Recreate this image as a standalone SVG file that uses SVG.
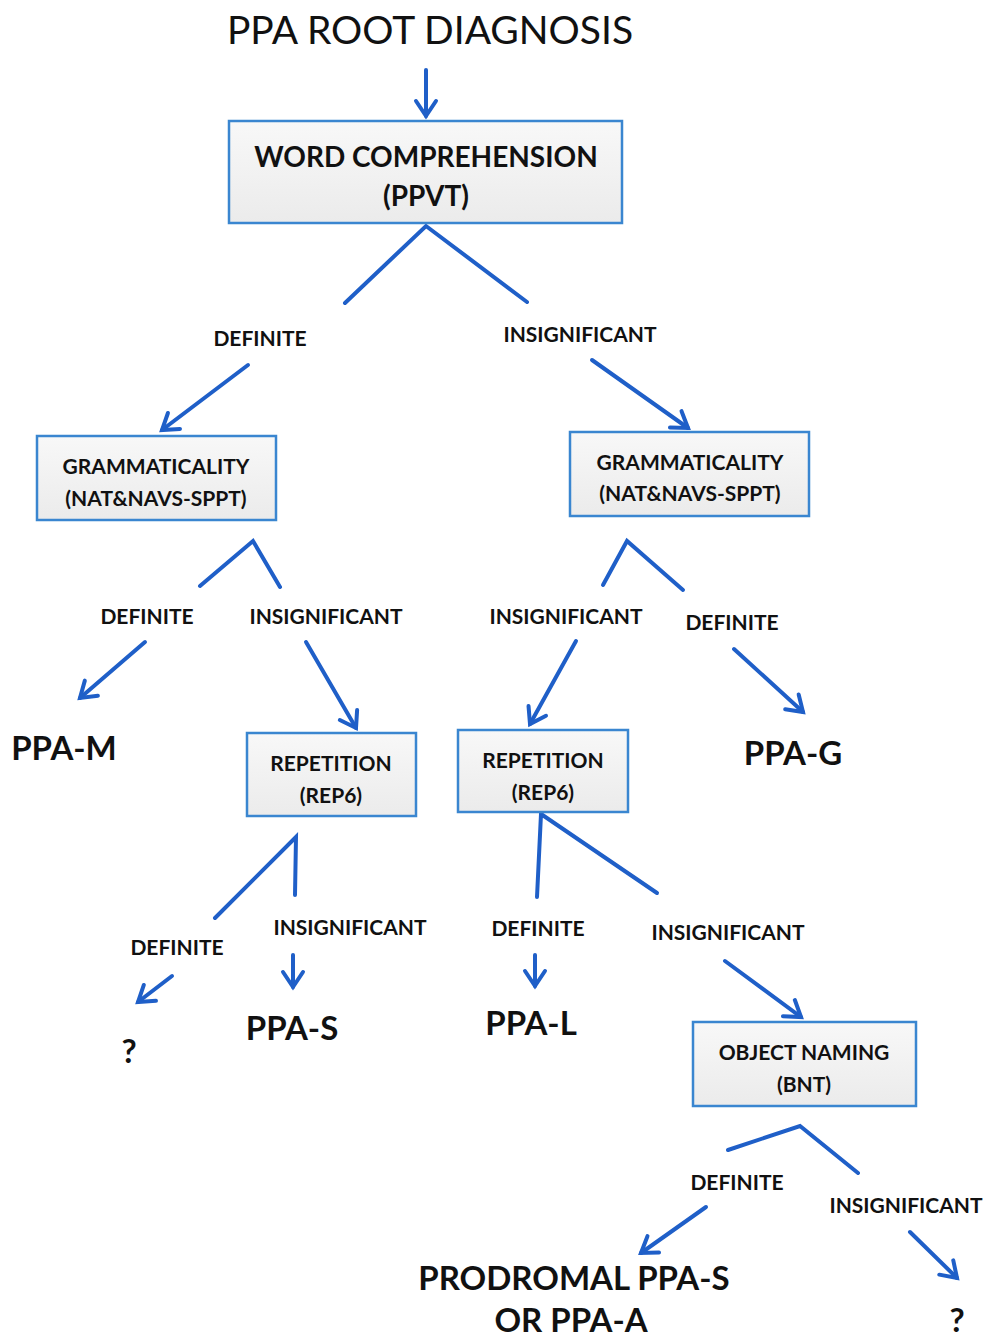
<svg xmlns="http://www.w3.org/2000/svg" width="989" height="1338" viewBox="0 0 989 1338">
<defs>
<linearGradient id="boxfill" x1="0" y1="0" x2="0" y2="1">
<stop offset="0" stop-color="#f8f8f8"/>
<stop offset="1" stop-color="#ebebeb"/>
</linearGradient>
<marker id="arr" markerUnits="userSpaceOnUse" markerWidth="30" markerHeight="30" viewBox="-20 -15 30 30" refX="0" refY="0" orient="auto">
<path d="M-15,-10 L0,0 L-15,10" fill="none" stroke="#1f5fc8" stroke-width="4" stroke-linecap="round" stroke-linejoin="miter"/>
</marker>
<style>
.box{fill:url(#boxfill);stroke:#3a86d0;stroke-width:2.5}
.ln{fill:none;stroke:#1f5fc8;stroke-width:4;stroke-linecap:round;stroke-linejoin:miter}
.ar{fill:none;stroke:#1f5fc8;stroke-width:4;stroke-linecap:round;marker-end:url(#arr)}
text{font-family:Lato,"Open Sans","Liberation Sans",sans-serif;fill:#111;text-anchor:middle}
.title{font-size:39px;font-weight:400}
.big{font-size:28px;font-weight:700}
.nt{font-size:21px;font-weight:700}
.lbl{font-size:21px;font-weight:700}
.res{font-size:33px;font-weight:700}
</style>
</defs>
<rect x="0" y="0" width="989" height="1338" fill="#ffffff"/>
<g id="title"><text class="title" x="430" y="44">PPA ROOT DIAGNOSIS</text></g>

<g id="connectors">
<line class="ar" x1="426" y1="70" x2="426" y2="116"/>
<polyline class="ln" points="345,303 426,226 527,302"/>
<line class="ar" x1="248" y1="365" x2="162" y2="430"/>
<line class="ar" x1="592" y1="360" x2="688" y2="428"/>
<polyline class="ln" points="200,586 253,541 280,587"/>
<polyline class="ln" points="603,585 627,541 683,590"/>
<line class="ar" x1="145" y1="642" x2="80" y2="698"/>
<line class="ar" x1="306" y1="642" x2="356" y2="728"/>
<line class="ar" x1="576" y1="641" x2="530" y2="724"/>
<line class="ar" x1="734" y1="649" x2="803" y2="712"/>
<polyline class="ln" points="215,918 296,837 295,895"/>
<polyline class="ln" points="537,897 541,814 657,893"/>
<line class="ar" x1="172" y1="976" x2="138" y2="1002"/>
<line class="ar" x1="293" y1="955" x2="293" y2="987"/>
<line class="ar" x1="535" y1="955" x2="535" y2="986"/>
<line class="ar" x1="725" y1="961" x2="801" y2="1017"/>
<polyline class="ln" points="728,1150 800,1126 858,1173"/>
<line class="ar" x1="706" y1="1207" x2="641" y2="1253"/>
<line class="ar" x1="910" y1="1232" x2="957" y2="1278"/>
</g>

<g id="word-comprehension">
<rect class="box" x="229" y="121" width="393" height="102"/>
<text class="big" x="426" y="167">WORD COMPREHENSION</text>
<text class="big" x="426" y="206">(PPVT)</text>
</g>
<g id="lbl-def-1"><text class="lbl" x="260" y="346">DEFINITE</text></g>
<g id="lbl-ins-1"><text class="lbl" x="580" y="342">INSIGNIFICANT</text></g>

<g id="grammaticality-left">
<rect class="box" x="37" y="436" width="239" height="84"/>
<text class="nt" x="156" y="474">GRAMMATICALITY</text>
<text class="nt" x="156" y="506">(NAT&amp;NAVS-SPPT)</text>
</g>
<g id="grammaticality-right">
<rect class="box" x="570" y="432" width="239" height="84"/>
<text class="nt" x="690" y="470">GRAMMATICALITY</text>
<text class="nt" x="690" y="501">(NAT&amp;NAVS-SPPT)</text>
</g>

<g id="lbl-def-2"><text class="lbl" x="147" y="624">DEFINITE</text></g>
<g id="lbl-ins-2"><text class="lbl" x="326" y="624">INSIGNIFICANT</text></g>
<g id="lbl-ins-3"><text class="lbl" x="566" y="624">INSIGNIFICANT</text></g>
<g id="lbl-def-3"><text class="lbl" x="732" y="630">DEFINITE</text></g>

<g id="ppa-m"><text class="res" x="64" y="760">PPA-M</text></g>
<g id="ppa-g"><text class="res" x="793" y="765">PPA-G</text></g>

<g id="repetition-left">
<rect class="box" x="247" y="733" width="169" height="83"/>
<text class="nt" x="331" y="771">REPETITION</text>
<text class="nt" x="331" y="803">(REP6)</text>
</g>
<g id="repetition-right">
<rect class="box" x="458" y="730" width="170" height="82"/>
<text class="nt" x="543" y="768">REPETITION</text>
<text class="nt" x="543" y="800">(REP6)</text>
</g>

<g id="lbl-def-4"><text class="lbl" x="177" y="955">DEFINITE</text></g>
<g id="lbl-ins-4"><text class="lbl" x="350" y="935">INSIGNIFICANT</text></g>
<g id="lbl-def-5"><text class="lbl" x="538" y="936">DEFINITE</text></g>
<g id="lbl-ins-5"><text class="lbl" x="728" y="940">INSIGNIFICANT</text></g>

<g id="unknown-1"><text class="res" x="129" y="1063">?</text></g>
<g id="ppa-s"><text class="res" x="292" y="1040">PPA-S</text></g>
<g id="ppa-l"><text class="res" x="531" y="1035">PPA-L</text></g>

<g id="object-naming">
<rect class="box" x="693" y="1022" width="223" height="84"/>
<text class="nt" x="804" y="1060">OBJECT NAMING</text>
<text class="nt" x="804" y="1092">(BNT)</text>
</g>

<g id="lbl-def-6"><text class="lbl" x="737" y="1190">DEFINITE</text></g>
<g id="lbl-ins-6"><text class="lbl" x="906" y="1213">INSIGNIFICANT</text></g>

<g id="prodromal"><text class="res" x="574" y="1290">PRODROMAL PPA-S</text><text class="res" x="571" y="1332">OR PPA-A</text></g>
<g id="unknown-2"><text class="res" x="957" y="1332">?</text></g>
</svg>
